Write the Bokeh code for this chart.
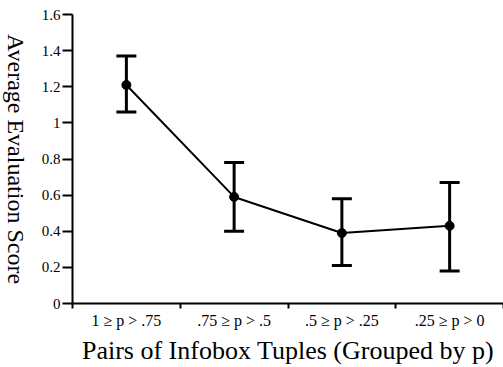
import math
from bokeh.plotting import figure
from bokeh.layouts import row
from bokeh.models import ColumnDataSource, Whisker, TeeHead, FixedTicker, Range1d
from bokeh.core.properties import value
from bokeh.embed import file_html
from bokeh.resources import INLINE

categories = ["1 \u2265 p > .75", ".75 \u2265 p > .5", ".5 \u2265 p > .25", ".25 \u2265 p > 0"]
means = [1.21, 0.59, 0.39, 0.43]
upper = [1.37, 0.78, 0.58, 0.67]
lower = [1.06, 0.40, 0.21, 0.18]
y_ticks = [0, 0.2, 0.4, 0.6, 0.8, 1.0, 1.2, 1.4, 1.6]
y_tick_labels = ["0", "0.2", "0.4", "0.6", "0.8", "1", "1.2", "1.4", "1.6"]
x_title = "Pairs of Infobox Tuples (Grouped by p)"
y_title = "Average Evaluation Score"

FONT = "Liberation Serif"
H = 367

xs = [i + 0.5 for i in range(len(categories))]
src = ColumnDataSource(dict(x=xs, y=means, upper=upper, lower=lower))

p = figure(width=473, height=H, output_backend="svg", toolbar_location=None,
           x_range=Range1d(0, 4), y_range=Range1d(0, 1.6),
           min_border_left=42, min_border_right=0, min_border_top=14, min_border_bottom=64)
p.outline_line_color = None
p.xgrid.visible = False
p.ygrid.visible = False
p.background_fill_color = "white"

p.line("x", "y", source=src, line_color="black", line_width=2)
p.scatter("x", "y", source=src, size=9, color="black")
w = Whisker(base="x", upper="upper", lower="lower", source=src, line_width=3, line_color="black",
            upper_head=TeeHead(size=20, line_width=3, line_color="black"),
            lower_head=TeeHead(size=20, line_width=3, line_color="black"))
p.add_layout(w)

# x axis
p.xaxis.ticker = FixedTicker(ticks=xs, minor_ticks=[0, 1, 2, 3, 4])
p.xaxis.major_label_overrides = {x: c for x, c in zip(xs, categories)}
p.xaxis.major_tick_out = 0
p.xaxis.major_tick_in = 0
p.xaxis.minor_tick_out = 5
p.xaxis.minor_tick_in = 0
p.xaxis.minor_tick_line_width = 2
p.xaxis.axis_line_width = 2
p.xaxis.major_label_text_font = FONT
p.xaxis.major_label_text_font_size = "16px"
p.xaxis.major_label_text_color = "black"
p.xaxis.major_label_standoff = 3
p.xaxis.axis_label = x_title
p.xaxis.axis_label_text_font = FONT
p.xaxis.axis_label_text_font_size = "26px"
p.xaxis.axis_label_text_font_style = "normal"
p.xaxis.axis_label_text_color = "black"
p.xaxis.axis_label_standoff = 4

# y axis
p.yaxis.ticker = FixedTicker(ticks=y_ticks, minor_ticks=[])
p.yaxis.major_label_overrides = {t: l for t, l in zip(y_ticks, y_tick_labels)}
p.yaxis.major_tick_out = 10
p.yaxis.major_tick_in = 0
p.yaxis.major_tick_line_width = 2
p.yaxis.axis_line_width = 2
p.yaxis.major_label_text_font = FONT
p.yaxis.major_label_text_font_size = "15px"
p.yaxis.major_label_text_color = "black"
p.yaxis.major_label_standoff = 2

# left strip holding the y title, read top to bottom
q = figure(width=30, height=H, output_backend="svg", toolbar_location=None,
           x_range=Range1d(0, 1), y_range=p.y_range,
           min_border_left=0, min_border_right=0, min_border_top=14, min_border_bottom=64)
q.axis.visible = False
q.grid.visible = False
q.outline_line_color = None
q.text(x=[0.5], y=[(y_ticks[0] + y_ticks[-1]) / 2], text=[y_title], angle=-math.pi / 2,
       text_align="center", text_baseline="middle", text_font=value(FONT),
       text_font_size="24px", text_color="black")

layout = row(q, p)
open("out.html", "w").write(file_html(layout, INLINE))
